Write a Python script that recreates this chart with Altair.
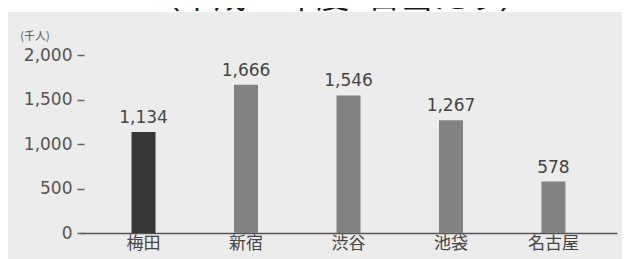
import altair as alt
import pandas as pd

stations = ["梅田", "新宿", "渋谷", "池袋", "名古屋"]
riders = [1134, 1666, 1546, 1267, 578]
y_ticks = [0, 500, 1000, 1500, 2000]
title_text = "（平成27年度1日当たり）"
unit_text = "(千人)"
highlight = "梅田"

df = pd.DataFrame({"station": stations, "riders": riders})

FONT = "Noto Sans CJK JP"
NUM_FONT = "DejaVu Sans"
W, H = 537, 178
PAD = {"left": 72, "top": 47, "right": 5, "bottom": 26}

x_enc = alt.X(
    "station:N",
    sort=stations,
    scale=alt.Scale(paddingInner=0, paddingOuter=0.12),
    axis=alt.Axis(
        title=None, labelAngle=0, ticks=False, domainColor="#555555",
        domainWidth=1.5, labelFontSize=17, labelColor="#444444",
        labelPadding=2, labelFont=FONT,
    ),
)
y_enc = alt.Y(
    "riders:Q",
    scale=alt.Scale(domain=[0, 2000], nice=False),
    axis=alt.Axis(
        title=None, values=y_ticks, format=",d", grid=False, domain=False,
        offset=-4, tickSize=7, tickColor="#666666", tickWidth=1.5,
        labelPadding=5, labelFontSize=17, labelColor="#555555",
        labelFont=NUM_FONT,
    ),
)

base = alt.Chart(df)

bars = base.mark_bar(size=24).encode(
    x=x_enc,
    y=y_enc,
    color=alt.condition(
        alt.datum.station == highlight, alt.value("#363636"), alt.value("#828282")
    ),
)

labels = base.mark_text(
    dy=-9, baseline="alphabetic", fontSize=17, color="#444444", font=NUM_FONT
).encode(
    x=alt.X("station:N", sort=stations),
    y=alt.Y("riders:Q"),
    text=alt.Text("riders:Q", format=",d"),
)

one = alt.Chart(pd.DataFrame({"t": [title_text]}))

strip = one.mark_rect(color="white").encode(
    x=alt.value(-72), x2=alt.value(542), y=alt.value(-47), y2=alt.value(-43)
)

title = one.mark_text(
    fontSize=33, color="#1a1a1a", align="center", baseline="alphabetic"
).encode(x=alt.value(260), y=alt.value(-47), text="t:N")

unit = alt.Chart(pd.DataFrame({"u": [unit_text]})).mark_text(
    fontSize=11, color="#555555", align="center", baseline="middle"
).encode(x=alt.value(-45), y=alt.value(-18), text="u:N")

chart = (
    alt.layer(strip, title, bars, labels, unit)
    .properties(width=W, height=H, padding=PAD, autosize=alt.AutoSizeParams(type="none"))
    .configure(background="#ececec", font=FONT)
    .configure_view(stroke=None)
)

chart.save("out.html", embed_options={"renderer": "svg", "actions": False})
